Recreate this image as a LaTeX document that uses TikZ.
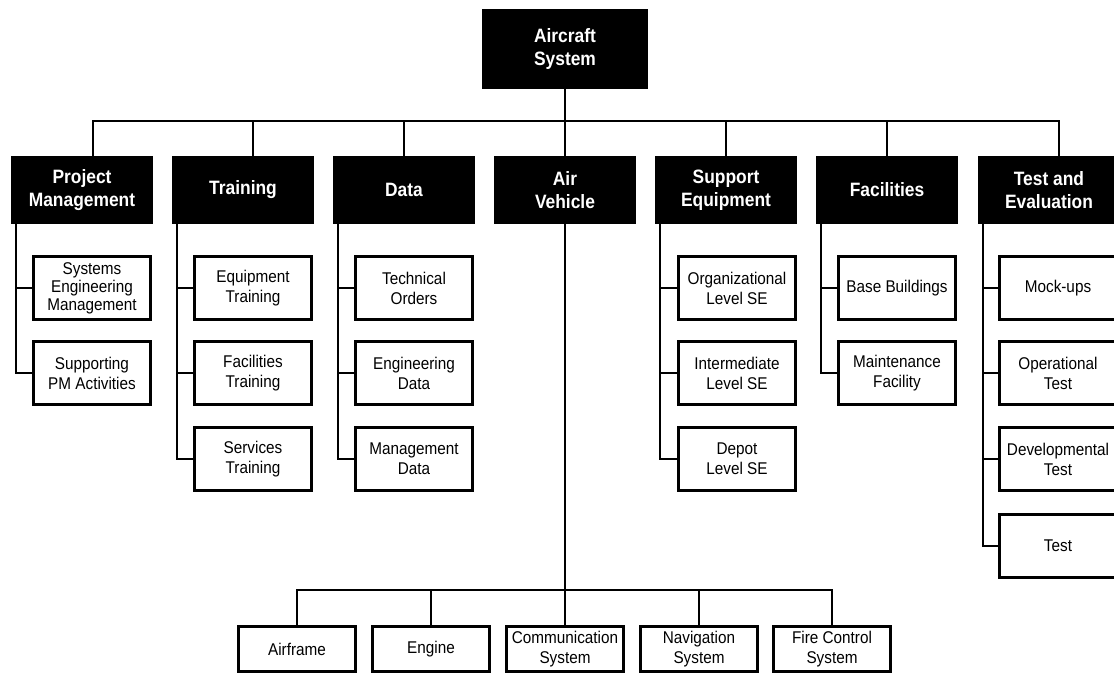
\documentclass[tikz,border=0pt]{standalone}
\usepackage{fontspec}
\setmainfont{Liberation Sans}[FakeStretch=0.9]

\tikzset{
  wire/.style={line width=1.5pt},
  topbox/.style={fill=black, text=white, align=center, inner sep=0pt,
    font=\bfseries\fontsize{14.5}{17.5}\selectfont,
    minimum width=124.5pt, minimum height=60pt},
  headbox/.style={topbox, minimum width=106.5pt, minimum height=51pt},
  itembox/.style={draw, line width=2pt, fill=white, align=center, inner sep=0pt,
    font=\fontsize{12.75}{15}\selectfont,
    minimum width=88pt, minimum height=47.5pt},
  partbox/.style={itembox, minimum height=34pt}
}

\begin{document}
\begin{tikzpicture}[x=0.75pt,y=0.75pt,yscale=-1,xscale=1]
  \useasboundingbox (0,0) rectangle (1114,675);

  % top of the tree
  \node[topbox] (sys) at (565,49) {Aircraft\\System};

  % second level
  \node[headbox] (pm) at (82,190) {Project\\Management};
  \node[headbox] (tr) at (243,190) {Training};
  \node[headbox] (da) at (404,190) {Data};
  \node[headbox] (av) at (565,190) {Air\\Vehicle};
  \node[headbox] (se) at (726,190) {Support\\Equipment};
  \node[headbox] (fa) at (887,190) {Facilities};
  \node[headbox] (te) at (1049,190) {Test and\\Evaluation};

  % items
  \node[itembox, font=\fontsize{12.75}{13.5}\selectfont] (pm1) at (92,288) {Systems\\Engineering\\Management};
  \node[itembox] (pm2) at (92,373) {Supporting\\PM Activities};

  \node[itembox] (tr1) at (253,288) {Equipment\\Training};
  \node[itembox] (tr2) at (253,373) {Facilities\\Training};
  \node[itembox] (tr3) at (253,459) {Services\\Training};

  \node[itembox] (da1) at (414,288) {Technical\\Orders};
  \node[itembox] (da2) at (414,373) {Engineering\\Data};
  \node[itembox] (da3) at (414,459) {Management\\Data};

  \node[itembox] (se1) at (737,288) {Organizational\\Level SE};
  \node[itembox] (se2) at (737,373) {Intermediate\\Level SE};
  \node[itembox] (se3) at (737,459) {Depot\\Level SE};

  \node[itembox] (fa1) at (897,288) {Base Buildings};
  \node[itembox] (fa2) at (897,373) {Maintenance\\Facility};

  \node[itembox] (te1) at (1058,288) {Mock-ups};
  \node[itembox] (te2) at (1058,373) {Operational\\Test};
  \node[itembox] (te3) at (1058,459) {Developmental\\Test};
  \node[itembox] (te4) at (1058,546) {Test};

  % air vehicle parts
  \node[partbox] (af) at (297,649) {Airframe};
  \node[partbox] (en) at (431,649) {Engine};
  \node[partbox] (cs) at (565,649) {Communication\\System};
  \node[partbox] (ns) at (699,649) {Navigation\\System};
  \node[partbox] (fc) at (832,649) {Fire Control\\System};

  % connectors
  \draw[wire] (sys.south) -- ++(0,32) -| ([xshift=8.25pt]pm.north);
  \draw[wire] (sys.south) -- ++(0,32) -| ([xshift=7.5pt]tr.north);
  \draw[wire] (sys.south) -- ++(0,32) -| (da.north);
  \draw[wire] (sys.south) -- ++(0,32) -| (av.north);
  \draw[wire] (sys.south) -- ++(0,32) -| (se.north);
  \draw[wire] (sys.south) -- ++(0,32) -| (fa.north);
  \draw[wire] (sys.south) -- ++(0,32) -| ([xshift=7.5pt]te.north);

  \foreach \h/\i in {pm/pm1,pm/pm2,tr/tr1,tr/tr2,tr/tr3,da/da1,da/da2,da/da3,
                     se/se1,se/se2,se/se3,fa/fa1,fa/fa2,te/te1,te/te2,te/te3,te/te4}
    \draw[wire] ([xshift=3.75pt]\h.south west) |- (\i.west);

  \foreach \p in {af,en,cs,ns,fc}
    \draw[wire] (av.south) -- ++(0,366) -| (\p.north);
\end{tikzpicture}
\end{document}
